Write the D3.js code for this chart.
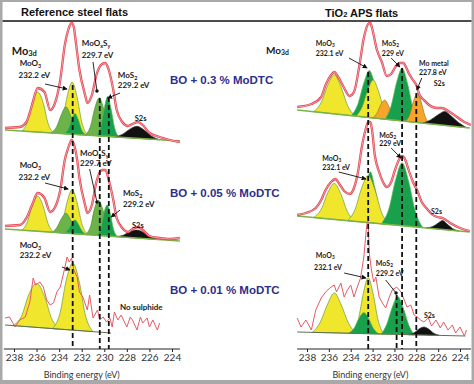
<!DOCTYPE html>
<html><head><meta charset="utf-8">
<script src="https://cdn.jsdelivr.net/npm/d3@7"></script>
<style>body{margin:0;background:#fff}svg{display:block}</style>
</head><body>
<svg id="c" width="474" height="384"></svg>
<script>
// ---------- DATA ----------
const energyTicks = [238, 236, 234, 232, 230, 228, 226, 224];
const panelTitles = ["Reference steel flats", "TiO_2 APS flats"];
const treatments = ["BO + 0.3 % MoDTC", "BO + 0.05 % MoDTC", "BO + 0.01 % MoDTC"];

// Reference steel, 0.3 %
const ltEnvelope = [[238.8,17],[237.5,18],[236.9,23],[236.4,40],[235.9,57],[235.3,53],[234.8,35],[234.4,41],[233.9,65],[233.5,100],[233.2,115],[232.9,122],[232.7,118],[232.6,110],[232.2,75],[231.7,50],[231.5,42],[231.1,50],[230.7,70],[230.2,81],[229.9,82],[229.6,75],[229.2,55],[228.9,35],[228.4,23],[227.9,19],[227.5,21],[227.0,23],[226.6,20],[226.0,12],[225.1,8],[224.2,5],[223.3,3]];
const ltBackground = [[238.8,15],[223.3,4]];
const ltMoO3a = [[237.3,0],[236.8,10],[236.4,29],[235.9,40],[235.4,29],[235.0,10],[234.5,0]];
const ltMoO3b = [[234.2,0],[233.7,13],[233.3,37],[232.85,52],[232.4,37],[232.0,13],[231.5,0]];
const ltMoOxSyA = [[234.7,0],[234.2,7],[233.8,19],[233.4,27],[233.0,19],[232.6,7],[232.1,0]];
const ltMoS2a = [[233.6,0],[233.2,5],[232.9,15],[232.6,21],[232.3,15],[232.0,5],[231.6,0]];
const ltMoOxSyB = [[231.7,0],[231.2,10],[230.85,27],[230.45,38],[230.05,27],[229.7,10],[229.2,0]];
const ltMoS2b = [[230.7,0],[230.3,10],[230.0,28],[229.7,40],[229.4,28],[229.1,10],[228.7,0]];
const ltS2s = [[229.1,0],[228.4,3],[227.7,9],[227.1,12],[226.5,9],[225.8,3],[225.1,0]];

// Reference steel, 0.05 %
const lmEnvelope = [[238.8,19],[237.5,20],[236.9,27],[236.4,40],[235.9,52],[235.3,47],[234.8,33],[234.4,37],[233.9,55],[233.5,85],[233.2,97],[233.0,103],[232.9,105],[232.7,101],[232.4,85],[232.2,67],[231.7,40],[231.5,32],[231.1,40],[230.7,63],[230.2,75],[229.9,75],[229.6,65],[229.2,45],[228.9,27],[228.4,17],[227.9,13],[227.5,16],[227.0,18],[226.6,15],[226.0,9],[225.1,7],[224.2,6],[223.3,7]];
const lmBackground = [[238.8,16],[223.3,4]];
const lmMoO3a = [[237.3,0],[236.8,9],[236.4,25],[235.9,35],[235.4,25],[235.0,9],[234.5,0]];
const lmMoO3b = [[234.2,0],[233.7,11],[233.3,31],[232.85,44],[232.4,31],[232.0,11],[231.5,0]];
const lmMoOxSyA = [[234.6,0],[234.2,5],[233.8,14],[233.4,20],[233.0,14],[232.6,5],[232.2,0]];
const lmMoS2a = [[233.6,0],[233.2,4],[232.9,10],[232.6,14],[232.3,10],[232.0,4],[231.6,0]];
const lmMoOxSyB = [[231.7,0],[231.2,9],[230.9,25],[230.5,35],[230.1,25],[229.7,9],[229.3,0]];
const lmMoS2b = [[230.7,0],[230.3,8],[230.05,22],[229.75,31],[229.45,22],[229.2,8],[228.8,0]];
const lmS2s = [[229.0,0],[228.3,2],[227.7,6],[227.1,8],[226.5,6],[225.8,2],[225.1,0]];

// Reference steel, 0.01 %
const lbSignal = [[238.8,22],[238.4,23],[237.9,13],[237.5,20],[237.0,23],[236.6,38],[236.3,62],[236.1,55],[235.7,58],[235.4,53],[235.1,40],[234.8,35],[234.5,37],[234.2,48],[233.9,53],[233.5,72],[233.3,83],[233.1,78],[232.9,82],[232.7,70],[232.4,63],[232.2,48],[231.9,43],[231.5,30],[231.3,45],[231.0,22],[230.6,30],[230.4,20],[230.1,23],[229.8,18],[229.5,22],[229.3,13],[229.1,28],[228.8,20],[228.5,25],[228.3,20],[228.0,13],[227.7,23],[227.5,20],[227.1,10],[226.8,23],[226.6,17],[226.2,22],[226.0,13],[225.7,20],[225.3,10],[225.1,17]];
const lbBackground = [[238.8,15],[229.4,7]];
const lbMoO3a = [[238.1,0],[237.3,11],[236.7,32],[236.0,44],[235.3,32],[234.7,11],[234.0,0]];
const lbMoO3b = [[234.6,0],[233.9,17],[233.4,48],[232.8,67],[232.2,48],[231.7,17],[231.0,0]];

// TiO2 APS, 0.3 %
const rtEnvelope = [[238.9,28],[237.6,31],[236.7,38],[236.3,50],[235.8,60],[235.5,63],[235.2,59],[234.6,47],[234.1,39],[233.7,43],[233.2,70],[232.8,97],[232.4,111],[232.2,112],[232.05,107],[231.6,85],[231.15,73],[230.7,59],[230.3,61],[229.85,69],[229.5,72],[229.2,72],[228.9,67],[228.7,62],[228.3,55],[228.0,50],[227.7,40],[227.3,35],[226.7,29],[226.1,27],[225.7,27],[224.8,22],[223.6,13],[223.0,10]];
const rtBackground = [[238.9,25],[223.1,7]];
const rtMoO3a = [[237.4,0],[236.7,10],[236.1,28],[235.5,39],[234.9,28],[234.3,10],[233.6,0]];
const rtMoS2a = [[233.95,0],[233.35,12],[232.8,34],[232.3,47],[231.8,34],[231.25,12],[230.65,0]];
const rtMoO3b = [[233.5,0],[232.95,10],[232.45,27],[231.95,38],[231.45,27],[230.95,10],[230.4,0]];
const rtMetalA = [[232.0,0],[231.6,5],[231.25,14],[230.9,19],[230.55,14],[230.2,5],[229.8,0]];
const rtMoS2b = [[230.85,0],[230.3,14],[229.8,38],[229.3,53],[228.8,38],[228.3,14],[227.75,0]];
const rtMetalB = [[229.0,0],[228.6,7],[228.25,21],[227.9,29],[227.55,21],[227.2,7],[226.8,0]];
const rtS2s = [[227.4,0],[226.7,4],[226.0,10],[225.4,14],[224.8,10],[224.1,4],[223.4,0]];

// TiO2 APS, 0.05 %
const rmEnvelope = [[238.9,25],[238.1,27],[237.2,32],[236.7,40],[236.3,50],[235.8,58],[235.4,61],[235.1,57],[234.6,49],[234.1,46],[233.7,52],[233.3,70],[233.0,92],[232.6,112],[232.4,118],[232.2,118],[232.05,110],[231.8,85],[231.4,68],[231.0,57],[230.7,53],[230.3,58],[229.95,70],[229.6,80],[229.3,84],[229.0,80],[228.7,70],[228.3,58],[227.9,49],[227.5,38],[227.0,31],[226.6,26],[226.1,23],[225.6,22],[224.9,17],[224.0,12],[223.1,9]];
const rmBackground = [[238.9,24],[223.1,8]];
const rmMoO3a = [[237.4,0],[236.7,9],[236.1,26],[235.5,36],[234.9,26],[234.3,9],[233.6,0]];
const rmMoS2a = [[233.5,0],[233.05,13],[232.6,36],[232.2,51],[231.8,36],[231.35,13],[230.9,0]];
const rmMoO3b = [[234.3,0],[233.6,12],[233.0,34],[232.4,47],[231.8,34],[231.2,12],[230.5,0]];
const rmMoS2b = [[231.2,0],[230.5,16],[229.9,45],[229.3,63],[228.7,45],[228.1,16],[227.4,0]];
const rmS2s = [[227.1,0],[226.5,2],[226.0,6],[225.6,9],[225.2,6],[224.7,2],[224.1,0]];

// TiO2 APS, 0.01 %
const rbSignal = [[238.9,27],[238.55,18],[238.1,25],[237.6,15],[237.2,35],[236.7,47],[236.3,53],[235.8,58],[235.5,60],[235.3,53],[234.9,62],[234.6,48],[234.3,55],[234.0,60],[233.7,48],[233.4,58],[233.1,67],[232.8,88],[232.6,112],[232.5,123],[232.4,123],[232.3,92],[232.1,75],[231.9,63],[231.7,68],[231.4,48],[231.1,42],[230.8,37],[230.5,47],[230.2,55],[229.8,58],[229.4,53],[229.1,45],[228.85,38],[228.5,40],[228.2,30],[227.9,28],[227.6,25],[227.3,23],[226.9,27],[226.6,19],[226.2,25],[225.8,17],[225.5,23],[225.1,15],[224.7,20],[224.4,12],[224.0,18],[223.6,9],[223.4,15]];
const rbBackground = [[238.9,13],[223.5,9]];
const rbMoO3a = [[237.5,0],[236.8,10],[236.1,29],[235.5,40],[234.9,29],[234.2,10],[233.5,0]];
const rbMoO3b = [[233.8,0],[233.3,14],[232.85,40],[232.4,56],[231.95,40],[231.5,14],[231.0,0]];
const rbMoS2a = [[234.2,0],[233.7,5],[233.25,15],[232.8,21],[232.35,15],[231.9,5],[231.4,0]];
const rbMoS2b = [[231.2,0],[230.7,10],[230.2,27],[229.7,38],[229.2,27],[228.7,10],[228.2,0]];
const rbS2s = [[228.7,0],[228.2,2],[227.75,6],[227.3,8],[226.85,6],[226.4,2],[225.9,0]];

// dashed reference energies: [eV, spectrum index where the line starts, intensity at top]
const markers = [[232.8,0,60],[230.4,0,47],[229.6,0,48],[232.4,3,63],[229.3,3,67],[228.0,3,42],[229.8,5,50]];

// annotations: [spectrum, eV, intensity, text, size]
const labels = [
  [0,238.2,90,"Mo_{3d}",11],
  [0,237.5,79,"MoO_3",8],[0,237.6,67,"232.2 eV",8],
  [0,232.0,99,"MoO_xS_y",8],[0,232.0,87,"229.7 eV",8],
  [0,228.8,67,"MoS_2",8],[0,228.8,57,"229.2 eV",8],
  [0,227.3,24,"S2s",7.5],
  [1,237.5,77,"MoO_3",8],[1,237.6,65,"232.2 eV",8],
  [1,232.15,89,"MoO_xS_y",8],[1,232.15,79,"229.7 eV",8],
  [1,228.35,49,"MoS_2",8],[1,228.35,38,"229.2 eV",8],
  [1,227.55,17,"S2s",7.5],
  [2,237.5,92,"MoO_3",8],[2,237.5,82,"232.2 eV",8],
  [2,228.6,30,"No sulphide",8],
  [3,241.75,81,"Mo_{3d}",10],
  [3,237.2,89,"MoO_3",7],[3,237.2,79,"232.1 eV",7],
  [3,231.15,89,"MoS_2",7],[3,231.15,79,"229 eV",7],
  [3,227.75,69,"Mo metal",7],[3,227.75,60,"227.8 eV",7],
  [3,226.4,49,"S2s",7],
  [4,236.6,79,"MoO_3",7],[4,236.6,70,"232.1 eV",7],
  [4,231.4,102,"MoS_2",7],[4,231.4,94,"229 eV",7],
  [4,226.65,26,"S2s",7],
  [5,237.2,87,"MoO_3",7],[5,237.35,75,"232.1 eV",7],
  [5,231.7,79,"MoS_2",7],[5,231.7,69,"229.2 eV",7],
  [5,227.3,27,"S2s",7]
];
// arrows: [spectrum, eV1, int1, eV2, int2, head]
const arrows = [
  [0,235.25,61,233.3,56,"a"],[0,231.0,83,230.65,54,"d"],[0,228.6,52,229.7,47,"a"],
  [1,235.25,62,233.2,56,"a"],[1,231.3,76,230.65,43,"d"],[1,228.6,35,229.4,28,"a"],
  [2,233.75,73,233.04,70,"a"],
  [3,234.16,77,232.5,67,"a"],[3,230.3,77,229.5,68,"a"],[3,227.5,57,227.95,45,"a"],
  [4,235.1,68,232.6,61,"a"],[4,230.3,92,229.4,82,"a"],
  [5,234.6,72,232.6,67,"a"],[5,230.8,65,229.85,52,"d"]
];

// ---------- LAYOUT / STYLE ----------
const W = 474, H = 384;
const fills = {y:"#f0e72c", lg:"#6cb449", dg:"#19a04c", o:"#f6a52a", k:"#111111"};
const outlines = {y:"#6b9a3c", lg:"#4f8a3a", dg:"#5fb85a", o:"#9a7a30", k:"#333"};
const xScales = [
  d3.scaleLinear().domain([238,224]).range([14,172]),
  d3.scaleLinear().domain([238,224]).range([307,460])
];
const axisY = 349;
const axisExtent = [[238.9,223.3],[238.9,223.0]];
const FONT = "Lato, 'Open Sans', Arial, sans-serif";

const spectra = [
  {panel:0, base:145, env:ltEnvelope, noisy:false, bg:ltBackground,
   comps:[[ltMoO3a,"y"],[ltMoO3b,"y"],[ltMoOxSyA,"lg"],[ltMoS2a,"dg"],[ltMoOxSyB,"lg"],[ltMoS2b,"dg"],[ltS2s,"k"]]},
  {panel:0, base:245, env:lmEnvelope, noisy:false, bg:lmBackground,
   comps:[[lmMoO3a,"y"],[lmMoO3b,"y"],[lmMoOxSyA,"lg"],[lmMoS2a,"dg"],[lmMoOxSyB,"lg"],[lmMoS2b,"dg"],[lmS2s,"k"]]},
  {panel:0, base:340, env:lbSignal, noisy:true, bg:lbBackground,
   comps:[[lbMoO3a,"y"],[lbMoO3b,"y"]]},
  {panel:1, base:135, env:rtEnvelope, noisy:false, bg:rtBackground,
   comps:[[rtMoO3a,"y"],[rtMoS2a,"dg"],[rtMoO3b,"y"],[rtMetalA,"o"],[rtMoS2b,"dg"],[rtMetalB,"o"],[rtS2s,"k"]]},
  {panel:1, base:240, env:rmEnvelope, noisy:false, bg:rmBackground,
   comps:[[rmMoO3a,"y"],[rmMoS2a,"dg"],[rmMoO3b,"y"],[rmMoS2b,"dg"],[rmS2s,"k"]]},
  {panel:1, base:345, env:rbSignal, noisy:true, bg:rbBackground,
   comps:[[rbMoO3a,"y"],[rbMoO3b,"y"],[rbMoS2a,"dg"],[rbMoS2b,"dg"],[rbS2s,"k"]]}
];

const svg = d3.select("#c");

function rich(sel, str, fs) {
  const re = /_\{([^}]*)\}|_(.)/g; let last = 0, m; const parts = [];
  while ((m = re.exec(str))) {
    if (m.index > last) parts.push([str.slice(last, m.index), false]);
    parts.push([m[1] || m[2], true]); last = re.lastIndex;
  }
  if (last < str.length) parts.push([str.slice(last), false]);
  const drop = fs >= 10 ? fs * 0.08 : fs * 0.2;
  let down = false;
  parts.forEach(([t, sub]) => {
    const ts = sel.append("tspan").text(t);
    if (sub) { ts.attr("font-size", fs * 0.68); if (!down) ts.attr("dy", drop); down = true; }
    else if (down) { ts.attr("dy", -drop); down = false; }
  });
}

// frame
svg.append("rect").attr("width", W).attr("height", H).attr("fill", "#a9a9a9");
svg.append("rect").attr("x", 2.5).attr("y", 2).attr("width", W - 5).attr("height", 378).attr("fill", "#fff");
svg.append("line").attr("x1", 2.5).attr("x2", W - 2.5).attr("y1", 21).attr("y2", 21)
  .attr("stroke", "#111").attr("stroke-width", 1.5);

// titles
[[21,16],[325,16.5]].forEach((p, i) => {
  const t = svg.append("text").attr("x", p[0]).attr("y", p[1]).attr("font-family", "'Liberation Sans', Arial, sans-serif")
    .attr("font-weight", "bold").attr("font-size", 11).attr("fill", "#111");
  rich(t, panelTitles[i], 11);
});

// markers defs
const defs = svg.append("defs");
defs.append("marker").attr("id", "arr").attr("viewBox", "0 0 8 8").attr("refX", 7).attr("refY", 4)
  .attr("markerWidth", 5).attr("markerHeight", 5).attr("markerUnits", "userSpaceOnUse").attr("orient", "auto")
  .append("path").attr("d", "M0,0L8,4L0,8z").attr("fill", "#111");
defs.append("marker").attr("id", "dot").attr("viewBox", "0 0 8 8").attr("refX", 4).attr("refY", 4)
  .attr("markerWidth", 3.5).attr("markerHeight", 3.5).attr("markerUnits", "userSpaceOnUse")
  .append("circle").attr("cx", 4).attr("cy", 4).attr("r", 4).attr("fill", "#111");

// spectra
spectra.forEach(s => {
  const xs = xScales[s.panel];
  const ys = d3.scaleLinear().domain([0, 100]).range([s.base, s.base - 100]);
  s.xs = xs; s.ys = ys;
  const bgAt = d3.scaleLinear().domain([s.bg[0][0], s.bg[1][0]]).range([s.bg[0][1], s.bg[1][1]]);
  const g = svg.append("g");
  s.comps.forEach(([pts, key]) => {
    const area = d3.area().x(d => xs(d[0])).y0(d => ys(bgAt(d[0]))).y1(d => ys(bgAt(d[0]) + d[1]))
      .curve(d3.curveMonotoneX);
    g.append("path").attr("d", area(pts)).attr("fill", fills[key])
      .attr("stroke", outlines[key]).attr("stroke-width", 0.7);
  });
  g.append("line").attr("x1", xs(s.bg[0][0])).attr("y1", ys(s.bg[0][1]))
    .attr("x2", xs(s.bg[1][0])).attr("y2", ys(s.bg[1][1]))
    .attr("stroke", s.noisy ? "#5f6f55" : "#79b347").attr("stroke-width", s.noisy ? 1 : 1.6);
  const line = d3.line().x(d => xs(d[0])).y(d => ys(d[1]))
    .curve(s.noisy ? d3.curveLinear : d3.curveMonotoneX);
  if (s.noisy) {
    g.append("path").attr("d", line(s.env)).attr("fill", "none").attr("stroke", "#e45a66").attr("stroke-width", 1);
  } else {
    g.append("path").attr("d", line(s.env)).attr("fill", "none").attr("stroke", "#e23e4b").attr("stroke-width", 2.3);
    g.append("path").attr("d", line(s.env)).attr("fill", "none").attr("stroke", "#fff").attr("stroke-width", 0.6).attr("opacity", 0.85);
  }
});

// dashed lines
markers.forEach(([ev, si, v]) => {
  const s = spectra[si];
  svg.append("line").attr("x1", s.xs(ev)).attr("x2", s.xs(ev)).attr("y1", s.ys(v)).attr("y2", axisY)
    .attr("stroke", "#111").attr("stroke-width", 1.8).attr("stroke-dasharray", "5,3");
});

// axes
xScales.forEach((xs, i) => {
  const g = svg.append("g").attr("transform", `translate(0,${axisY})`);
  g.append("line").attr("x1", xs(axisExtent[i][0])).attr("x2", xs(axisExtent[i][1]))
    .attr("stroke", "#222").attr("stroke-width", 1.2);
  const ax = d3.axisBottom(xs).tickValues(energyTicks).tickSize(3).tickSizeOuter(0).tickPadding(2)
    .tickFormat(d3.format("d"));
  g.call(ax);
  g.select(".domain").remove();
  g.selectAll(".tick line").attr("stroke", "#222");
  g.selectAll(".tick text").attr("font-family", FONT).attr("font-size", 10).attr("fill", "#333");
  svg.append("text").attr("x", xs([232, 232.2][i])).attr("y", 378).attr("text-anchor", "middle")
    .attr("font-family", FONT).attr("font-size", 9).attr("fill", "#333").text("Binding energy (eV)");
});

// arrows
arrows.forEach(([si, e1, v1, e2, v2, h]) => {
  const s = spectra[si];
  svg.append("line").attr("x1", s.xs(e1)).attr("y1", s.ys(v1)).attr("x2", s.xs(e2)).attr("y2", s.ys(v2))
    .attr("stroke", "#111").attr("stroke-width", 0.9)
    .attr("marker-end", h === "d" ? "url(#dot)" : "url(#arr)");
});

// labels
labels.forEach(([si, ev, v, txt, fs]) => {
  const s = spectra[si];
  const t = svg.append("text").attr("x", s.xs(ev)).attr("y", s.ys(v)).attr("font-family", FONT)
    .attr("font-weight", "bold").attr("font-size", fs).attr("fill", "#1a1a1a");
  rich(t, txt, fs);
});

// treatment labels
[84, 197, 294].forEach((y, i) => {
  svg.append("text").attr("x", 170).attr("y", y).attr("font-family", "'Liberation Sans', Arial, sans-serif")
    .attr("font-weight", "bold").attr("font-size", 11.5).attr("fill", "#2c2f8c").text(treatments[i]);
});
</script>
</body></html>
